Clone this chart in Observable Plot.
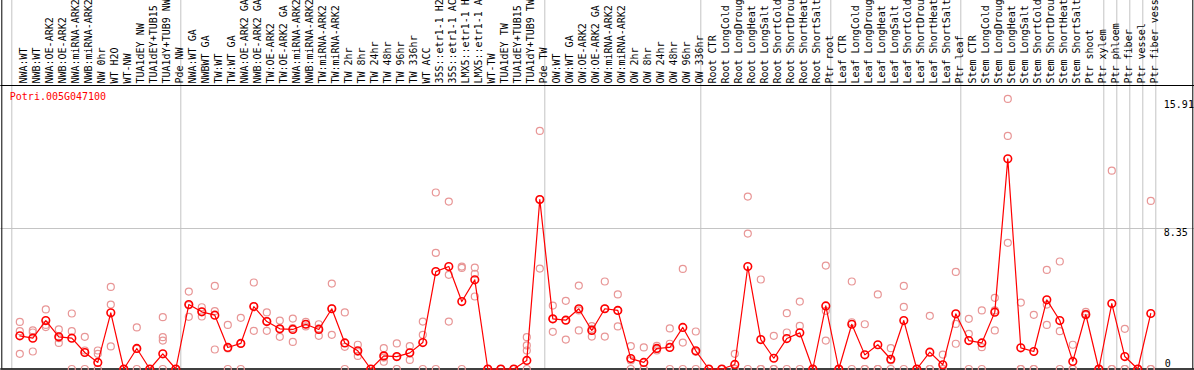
<!DOCTYPE html>
<html>
<head>
<meta charset="utf-8">
<script src="https://cdn.jsdelivr.net/npm/d3@7"></script>
<script src="https://cdn.jsdelivr.net/npm/@observablehq/plot@0.6"></script>
<style>
  html, body { margin: 0; padding: 0; background: #fff; }
  #chart svg { display: block; }
</style>
</head>
<body>
<div id="chart"></div>
<script>
const geneId = "Potri.005G047100";

const labels = [
  "NWA:WT","NWB:WT","NWA:OE-ARK2","NWB:OE-ARK2","NWA:miRNA-ARK2","NWB:miRNA-ARK2","NW 0hr","WT H2O","WT-NW","TUA1dEY NW","TUA1dEY+TUB15","TUA1dY+TUB9 NW","Pde NW",
  "NWA:WT GA","NWBWT GA","TW:WT","TW:WT GA","NWA:OE-ARK2 GA","NWB:OE-ARK2 GA","TW:OE-ARK2","TW:OE-ARK2 GA","NWA:miRNA-ARK2","NWB:miRNA-ARK2","TW:miRNA-ARK2","TW:miRNA-ARK2",
  "TW 2hr","TW 8hr","TW 24hr","TW 48hr","TW 96hr","TW 336hr","WT ACC","35S::etr1-1 H2","35S::etr1-1 AC","LMX5::etr1-1 H","LMX5::etr1-1 A","WT-TW","TUA1dEY TW","TUA1dEY+TUB15","TUA1dY+TUB9 TW","Pde TW",
  "OW:WT","OW:WT GA","OW:OE-ARK2","OW:OE-ARK2 GA","OW:miRNA-ARK2","OW:miRNA-ARK2","OW 2hr","OW 8hr","OW 24hr","OW 48hr","OW 96hr","OW 336hr",
  "Root CTR","Root LongCold","Root LongDroug","Root LongHeat","Root LongSalt","Root ShortCold","Root ShortDrou","Root ShortHeat","Root ShortSalt","Ptr root",
  "Leaf CTR","Leaf LongCold","Leaf LongDroug","Leaf LongHeat","Leaf LongSalt","Leaf ShortCold","Leaf ShortDrou","Leaf ShortHeat","Leaf ShortSalt","Ptr leaf",
  "Stem CTR","Stem LongCold","Stem LongDroug","Stem LongHeat","Stem LongSalt","Stem ShortCold","Stem ShortDrou","Stem ShortHeat","Stem ShortSalt","Ptr shoot","Ptr xylem",
  "Ptr phloem","Ptr fiber","Ptr vessel","Ptr fiber vess"
];

// group boundaries (index of first sample of each group, plus the end)
const groupBreaks = [0, 13, 41, 53, 63, 73, 84, 85, 86, 87, 88];

// mean expression per sample
const means = [
  1.97,1.83,2.88,1.91,1.83,0.98,0.39,3.34,0,1.22,0,0.90,0,
  3.83,3.40,3.20,1.28,1.52,3.71,2.82,2.39,2.35,2.66,2.35,3.58,
  1.55,1.08,0,0.78,0.74,0.96,1.57,5.79,6.09,4.01,5.30,0,0,0,0.51,10.07,
  2.98,2.90,3.58,2.29,3.58,3.48,0.62,0.39,1.22,1.28,2.47,1.08,
  0,0,0.27,6.09,1.75,0.64,1.81,2.15,0,3.75,
  0,2.66,0.84,1.44,0.58,2.88,0,1.00,0.25,3.28,
  1.69,1.55,3.38,12.49,1.26,1.04,4.11,2.88,0.45,3.24,0,
  3.89,0.74,0,3.30
];

// replicate values per sample
const replicates = [
  [2.80,2.25,0.90],[2.29,2.17,1.04],[3.54,2.49,2.62],[2.35,1.55,1.83],[3.30,2.25,0],[1.91,1.10,0],[1.10,0.90,0],[4.88,3.83,1.34],[0,0,0],[2.47,0,1.20],[0,0,0],[3.08,1.89,1.69,0],[0,0,0],
  [4.60,3.10,3.79],[3.67,3.12,3.40],[4.94,3.44,1.16],[2.62,0,1.22],[3.04,0,1.52],[5.14,2.27,3.73],[3.36,2.27,2.84],[2.88,1.91,2.37],[3.00,1.61,2.43],[2.80,2.66,2.53],[2.66,1.97,2.41],[5.08,2.03,3.61],
  [3.36,0,1.32],[1.44,0.78,1.02],[0,0,0],[1.24,0.43,0.68],[1.52,0,0.72],[1.36,0.54,0.98],[2.82,2.03,0],[10.49,6.90,0],[9.95,5.60,2.82],[6.09,6.01,0],[6.03,5.65,4.31],[0,0,0],[0,0,0],[0,0,0],[1.89,1.40,1.10,0],[14.15,5.97,10.09],
  [3.77,2.21,2.96],[4.05,1.75,2.90],[4.96,2.29,3.48],[2.55,1.93,2.39],[5.20,1.93,3.59],[4.43,2.53,3.48],[1.36,0,0.51],[1.28,0,0],[1.38,1.18,1.10],[2.41,1.50,0],[5.95,1.57,0],[2.23,0,1.02],
  [0,0,0],[0,0,0],[0.90,0,0],[10.25,8.05,0],[5.32,0,0],[1.97,0,0],[3.32,2.17,0],[4.01,2.56,0],[0,0,0],[6.15,3.46,1.69],
  [0,0,0],[5.20,2.78,0],[2.66,0,0],[4.43,0,0],[1.24,0,0.51],[4.94,3.69,0],[0,0,0],[3.16,0,0],[0.86,0,0],[5.77,2.68,1.50],
  [2.98,2.09,0],[3.48,1.30,0],[4.23,2.29,3.48],[16.05,13.85,7.50],[3.95,0,0],[3.22,0,0],[5.89,3.83,2.62],[6.39,2.25,0],[1.44,0,0],[3.40,3.28,3.20],[0,0,0],
  [11.79,0,0],[2.39,0,0],[0,0,0],[9.99,0,0]
];

const yTicks = [0, 8.35, 15.91];
const yMax = 16.85;

const meanData = means.map((v, i) => ({i, v}));
const repData = replicates.flatMap((arr, i) => arr.map(v => ({i, v})));
const idx = labels.map((_, i) => i);

const RED = "#ff0000";
const PINK = "#e89696";
const GRID = "#c4c4c4";

const plot = Plot.plot({
  width: 1194,
  height: 370,
  marginTop: 85,
  marginBottom: 1.5,
  marginLeft: 11.3,
  marginRight: 38.7,
  x: {type: "linear", domain: [0, labels.length], axis: null},
  y: {domain: [0, yMax], axis: null},
  style: {fontFamily: "'DejaVu Sans Mono', monospace", fontSize: "10px", background: "#fff", color: "#000"},
  marks: [
    Plot.ruleY([yTicks[1]], {stroke: GRID, insetLeft: -11, insetRight: -39}),
    Plot.ruleX(groupBreaks, {x: d => d, stroke: GRID, insetTop: -85}),
    Plot.ruleY([yMax], {stroke: "#000", insetLeft: -11, insetRight: -39}),
    Plot.ruleY([0], {stroke: "#000", strokeWidth: 1.5, insetLeft: -11, insetRight: -39}),
    Plot.ruleX([0], {stroke: "#000", dx: -10, insetTop: -85}),
    Plot.ruleX([labels.length], {stroke: "#000", dx: 37, insetTop: -85}),
    Plot.text(idx, {
      x: i => i + 0.5, frameAnchor: "top", text: i => labels[i],
      rotate: -90, textAnchor: "start", dx: 1.5, dy: -2, fill: "#000"
    }),
    Plot.dot(repData, {x: d => d.i + 0.5, y: "v", r: 3.5, stroke: PINK, strokeWidth: 1.2, fill: "none", dx: 1.5}),
    Plot.line(meanData, {x: d => d.i + 0.5, y: "v", stroke: RED, strokeWidth: 1.2, dx: 1.5}),
    Plot.dot(meanData, {x: d => d.i + 0.5, y: "v", r: 3.8, stroke: RED, strokeWidth: 1.6, fill: "none", dx: 1.5}),
    Plot.text([geneId], {frameAnchor: "top-left", textAnchor: "start", lineAnchor: "top", dx: -2, dy: 7, fill: RED}),
    Plot.text(yTicks.filter(t => t > 0), {y: d => d, frameAnchor: "right", text: d => String(d), textAnchor: "start", lineAnchor: "top", dx: 8, dy: 0, fill: "#000"}),
    Plot.text(yTicks.filter(t => t === 0), {y: d => d, frameAnchor: "right", text: d => String(d), textAnchor: "start", lineAnchor: "bottom", dx: 9, dy: -2, fill: "#000"})
  ]
});

document.getElementById("chart").appendChild(plot);
</script>
</body>
</html>
